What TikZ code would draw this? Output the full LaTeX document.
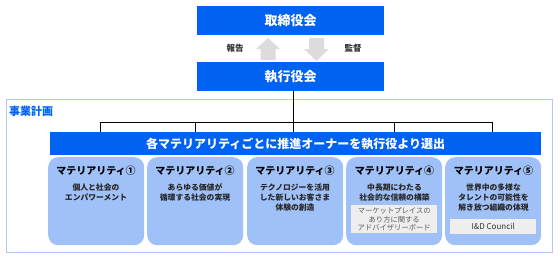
\documentclass[tikz,border=0pt]{standalone}
\usepackage{fontspec}
\setmainfont{Noto Sans CJK JP}
\definecolor{mblue}{RGB}{0,98,240}
\definecolor{lblue}{RGB}{160,193,248}
\definecolor{pborder}{RGB}{175,202,250}
\definecolor{agray}{RGB}{220,220,220}
\definecolor{gbox}{RGB}{238,238,238}
\definecolor{gtext}{RGB}{90,90,90}
\begin{document}
\begin{tikzpicture}[x=1pt,y=-1pt,
  bluebox/.style={fill=mblue,draw=none,text=white,font=\bfseries\fontsize{13}{15}\selectfont,anchor=north west,inner sep=0pt},
  matbox/.style={fill=lblue,draw=none,rounded corners=10pt,anchor=north west,inner sep=0pt,minimum width=96pt,minimum height=88pt},
  mattitle/.style={font=\bfseries\fontsize{10}{12}\selectfont,text=black},
  matsub/.style={font=\bfseries\fontsize{7.8}{10}\selectfont,text=black!85,align=center},
  graybox/.style={fill=gbox,draw=none,anchor=north west,inner sep=0pt,font=\fontsize{7.3}{8.8}\selectfont,text=gtext,align=center},
  tline/.style={draw=black,line width=0.8pt},
  garrow/.style={fill=agray,draw=none},
  arrlabel/.style={font=\bfseries\fontsize{8.5}{10}\selectfont,text=black!80}
]
\useasboundingbox (0,0) rectangle (560,258);
\fill[white] (0,0) rectangle (560,258);
% outer panel
\draw[pborder,line width=1pt] (6,99) rectangle (552,252);
\node[anchor=west,text=mblue,font=\bfseries\fontsize{11}{13}\selectfont,inner sep=0pt] (plan) at (9,111) {事業計画};
% top boxes
\node[bluebox,minimum width=187pt,minimum height=29pt] (board) at (197,6) {取締役会};
\node[bluebox,minimum width=187pt,minimum height=29pt] (exec) at (197,62) {執行役会};
% arrows
\fill[garrow] (268,38) -- (280,49) -- (275.5,49) -- (275.5,60) -- (260.5,60) -- (260.5,49) -- (256,49) -- cycle;
\fill[garrow] (309,38) -- (324,38) -- (324,49) -- (329,49) -- (316.5,61) -- (304,49) -- (309,49) -- cycle;
\node[arrlabel] (rep) at (235,48) {報告};
\node[arrlabel] (sup) at (353,48) {監督};
% bar
\node[bluebox,font=\bfseries\fontsize{12}{14}\selectfont,minimum width=491pt,minimum height=23pt] (bar) at (50,132) {各マテリアリティごとに推進オーナーを執行役より選出};
% tree
\coordinate (j) at (293,122);
\draw[tline] (exec.south -| j) -- (j);
\draw[tline] (100,122) -- (492,122);
\foreach \xx in {100,195,293,394,492}{\draw[tline] (\xx,122) -- (\xx,132);}
% materiality boxes
\node[matbox] (m1) at (48,157) {};
\node[matbox] (m2) at (147,157) {};
\node[matbox] (m3) at (247,157) {};
\node[matbox] (m4) at (346,157) {};
\node[matbox] (m5) at (445,157) {};
\node[mattitle] (t1) at (96,170.5) {マテリアリティ①};
\node[mattitle] (t2) at (195,170.5) {マテリアリティ②};
\node[mattitle] (t3) at (295,170.5) {マテリアリティ③};
\node[mattitle] (t4) at (394.5,170.5) {マテリアリティ④};
\node[mattitle] (t5) at (493.5,170.5) {マテリアリティ⑤};
\node[matsub,anchor=north] (s1) at (96,180) {個人と社会の\\エンパワーメント};
\node[matsub,anchor=north] (s2) at (195,180) {あらゆる価値が\\循環する社会の実現};
\node[matsub,anchor=north] (s3) at (295,180) {テクノロジーを活用\\した新しいお客さま\\体験の創造};
\node[matsub,anchor=north] (s4) at (394.5,180) {中長期にわたる\\社会的な信頼の構築};
\node[matsub,anchor=north] (s5) at (493.5,180) {世界中の多様な\\タレントの可能性を\\解き放つ組織の体現};
\node[graybox,minimum width=86pt,minimum height=28pt] (g4) at (351,205) {マーケットプレイスの\\あり方に関する\\アドバイザリーボード};
\node[graybox,minimum width=86pt,minimum height=15pt,font=\fontsize{8}{10}\selectfont,text=black!80] (g5) at (450,219) {I\&D Council};
\end{tikzpicture}
\end{document}
